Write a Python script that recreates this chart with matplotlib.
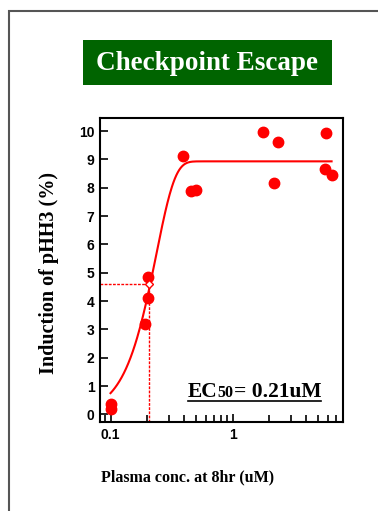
import numpy as np
import matplotlib.pyplot as plt
from matplotlib.patches import Rectangle
from matplotlib.lines import Line2D
from matplotlib.ticker import LogLocator, NullFormatter, FixedLocator, FixedFormatter

# measured points
conc = [0.1, 0.1, 0.192, 0.201, 0.201, 0.39, 0.455, 0.50, 1.78, 2.18, 2.36, 5.73, 5.78, 6.45]
phh3 = [0.36, 0.19, 3.18, 4.10, 4.86, 9.12, 7.88, 7.92, 9.95, 8.18, 9.61, 8.66, 9.93, 8.46]

# fitted curve (asymmetric sigmoid in log x)
top = 8.93
slope = 6.5
mid = 0.237
ec50 = 0.207
half_y = 4.6

serif = ['Liberation Serif', 'DejaVu Serif']
sans = ['Liberation Sans', 'DejaVu Sans']

fig = plt.figure(figsize=(3.78, 5.11), dpi=100)
W, H = 378.0, 511.0

# outer frame
fig.patches.append(Rectangle((9 / W, -0.1), 1.2, 1 - 11 / H + 0.1, transform=fig.transFigure,
                             fill=False, edgecolor='#555555', linewidth=1.5))

# title box
fig.patches.append(Rectangle((83 / W, 1 - 85 / H), 249 / W, 45 / H, transform=fig.transFigure,
                             facecolor='#006400', edgecolor='none'))
fig.text(207 / W, 1 - 64 / H, 'Checkpoint Escape', color='white', fontsize=19.5,
         fontweight='bold', family=serif, ha='center', va='center')

ax = fig.add_axes([100 / W, 1 - 422 / H, 243 / W, 304 / H])
ax.set_xscale('log')
ax.set_xlim(0.082, 8.0)
ax.set_ylim(-0.27, 10.46)

xs = np.logspace(np.log10(0.1), np.log10(6.45), 300)
ys = top * (1 - np.exp(-np.exp(slope * (np.log10(xs) - np.log10(mid)))))
ax.plot(xs, ys, color='red', linewidth=1.5, zorder=3)
ax.plot(conc, phh3, 'o', color='red', markersize=7.5, zorder=4, clip_on=False)

# EC50 guide lines
ax.plot([0.082, ec50], [half_y, half_y], color='red', linestyle=(0, (2, 1)), linewidth=1)
ax.plot([ec50, ec50], [-0.27, half_y], color='red', linestyle=(0, (2, 1)), linewidth=1)
ax.plot([ec50], [half_y], 'D', markersize=4, mfc='white', mec='red', mew=1, zorder=5)

ax.yaxis.set_major_locator(FixedLocator(range(0, 11)))
ax.xaxis.set_major_locator(FixedLocator([0.1, 1]))
ax.xaxis.set_major_formatter(FixedFormatter(['0.1', '1']))
ax.xaxis.set_minor_locator(LogLocator(base=10, subs=np.arange(2, 10)))
ax.xaxis.set_minor_formatter(NullFormatter())
ax.tick_params(axis='both', which='major', direction='in', length=6, width=1.2, pad=4)
ax.tick_params(axis='x', which='minor', direction='in', length=5, width=1.2)
for lab in ax.get_xticklabels() + ax.get_yticklabels():
    lab.set_fontfamily(sans)
    lab.set_fontweight('bold')
    lab.set_fontsize(10)
for s in ax.spines.values():
    s.set_linewidth(1.5)

fig.text(49 / W, 1 - 273 / H, 'Induction of pHH3 (%)', rotation=90, fontsize=14.5,
         fontweight='bold', family=serif, ha='center', va='center')
fig.text(188 / W, 1 - 477 / H, 'Plasma conc. at 8hr (uM)', fontsize=11.5,
         fontweight='bold', family=serif, ha='center', va='center')

# EC50 label with smaller "50"
t1 = fig.text(188 / W, 1 - 397 / H, 'EC', fontsize=15.5, fontweight='bold', family=serif,
              ha='left', va='baseline')
fig.canvas.draw()
r = fig.canvas.get_renderer()
b1 = t1.get_window_extent(r)
t2 = fig.text(b1.x1 / W, 1 - 397 / H, '50', fontsize=11.5, fontweight='bold', family=serif,
              ha='left', va='baseline')
b2 = t2.get_window_extent(r)
t3 = fig.text(b2.x1 / W, 1 - 397 / H, '= 0.21uM', fontsize=15.5, fontweight='bold', family=serif,
              ha='left', va='baseline')
b3 = t3.get_window_extent(r)
fig.lines.append(Line2D([b1.x0 / W, b3.x1 / W], [1 - 400.5 / H, 1 - 400.5 / H],
                        transform=fig.transFigure, color='black', linewidth=1.2))

fig.savefig('out.png', dpi=100)
